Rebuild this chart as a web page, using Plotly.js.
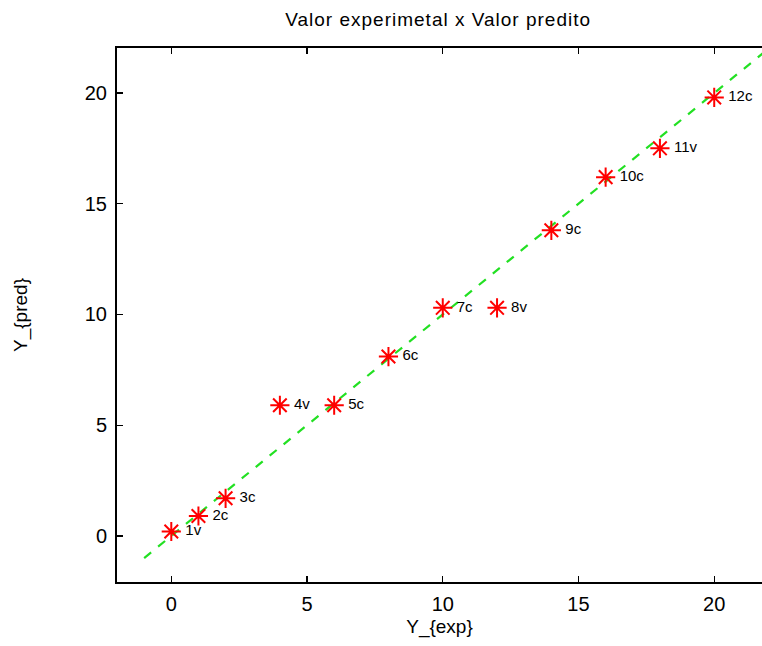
<!DOCTYPE html>
<html>
<head>
<meta charset="utf-8">
<script src="https://cdn.plot.ly/plotly-3.0.1.min.js"></script>
<style>
html,body{margin:0;padding:0;background:#fff;}
.gtitle{letter-spacing:1px;}
</style>
</head>
<body>
<div id="chart" style="width:762px;height:646px;"></div>
<script>
var yExp = [0, 1, 2, 4, 6, 8, 10, 12, 14, 16, 18, 20];
var yPred = [0.2, 0.9, 1.7, 5.9, 5.9, 8.1, 10.3, 10.3, 13.8, 16.2, 17.5, 19.8];
var labels = ["1v", "2c", "3c", "4v", "5c", "6c", "7c", "8v", "9c", "10c", "11v", "12c"];
var fitX = [-1, 22];
var fitY = [-1, 22];

var font = "Liberation Sans, Arial, sans-serif";

var traces = [
  {
    x: fitX, y: fitY, mode: "lines", type: "scatter",
    line: {color: "#22e022", width: 2.2, dash: "dash"},
    hoverinfo: "skip", showlegend: false
  },
  {
    x: yExp, y: yPred, mode: "markers+text", type: "scatter",
    text: labels.map(function(s){ return "\u2009" + s; }),
    textposition: "middle right",
    textfont: {family: font, size: 15, color: "#000"},
    marker: {symbol: "asterisk-open", size: 16, color: "#ff0000", line: {color: "#ff0000", width: 2}},
    showlegend: false, cliponaxis: false
  }
];

var layout = {
  width: 762, height: 646,
  margin: {l: 117, r: 0, t: 48, b: 64},
  paper_bgcolor: "#fff", plot_bgcolor: "#fff",
  font: {family: font, color: "#000"},
  title: {text: "Valor experimetal x Valor predito", font: {family: font, size: 19, color: "#000"}, x: 0.575, xanchor: "center", y: 0.97, yanchor: "middle"},
  xaxis: {
    range: [-2, 21.76], tickvals: [0, 5, 10, 15, 20],
    ticks: "inside", ticklen: 6, tickwidth: 1.2, tickcolor: "#000",
    showline: true, linewidth: 2, linecolor: "#000", mirror: "allticks",
    showgrid: false, zeroline: false,
    tickfont: {family: font, size: 20, color: "#000"},
    ticklabelstandoff: 3,
    title: {text: "Y_{exp}", font: {family: font, size: 19, color: "#000"}, standoff: 6}
  },
  yaxis: {
    range: [-2.08, 22.03], tickvals: [0, 5, 10, 15, 20],
    ticks: "inside", ticklen: 6, tickwidth: 1.2, tickcolor: "#000",
    showline: true, linewidth: 2, linecolor: "#000", mirror: false,
    showgrid: false, zeroline: false,
    tickfont: {family: font, size: 20, color: "#000"},
    ticklabelstandoff: 4,
    title: {text: "Y_{pred}", font: {family: font, size: 19, color: "#000"}, standoff: 52}
  }
};

Plotly.newPlot("chart", traces, layout, {displayModeBar: false, staticPlot: true});
</script>
</body>
</html>
